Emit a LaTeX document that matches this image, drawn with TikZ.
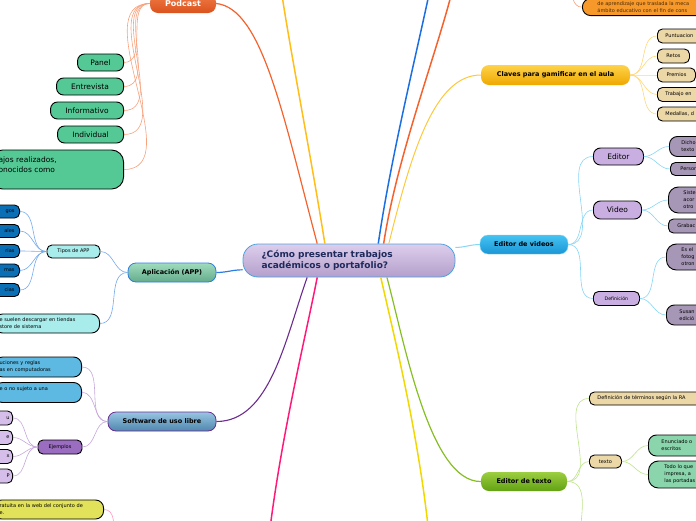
\documentclass[tikz,border=0pt]{standalone}
\usepackage{fontspec}
\setmainfont{DejaVu Sans}
\usetikzlibrary{positioning}
\definecolor{Navy}{HTML}{1F2A5C}
\definecolor{Sky}{HTML}{4AA3DF}
\definecolor{LilacTop}{HTML}{DDCEEC}
\definecolor{LilacBot}{HTML}{B49FCB}
\definecolor{PodTop}{HTML}{F27A45}
\definecolor{PodBot}{HTML}{D9531E}
\definecolor{Salmon}{HTML}{F7A27E}
\definecolor{Mint}{HTML}{54C995}
\definecolor{Amber}{HTML}{FFBE1A}
\definecolor{GoldTop}{HTML}{FFD24A}
\definecolor{GoldBot}{HTML}{EEA800}
\definecolor{Gold}{HTML}{FFC83C}
\definecolor{GoldTwig}{HTML}{FFD97A}
\definecolor{Sand}{HTML}{ECD7A6}
\definecolor{Flame}{HTML}{F4622E}
\definecolor{Tangerine}{HTML}{F7992A}
\definecolor{Cocoa}{HTML}{4A2A08}
\definecolor{Royal}{HTML}{1C6FE0}
\definecolor{CyanTop}{HTML}{45C3F2}
\definecolor{CyanBot}{HTML}{1A96D6}
\definecolor{CyanTwig}{HTML}{86D6F5}
\definecolor{Lilac}{HTML}{C9AEE1}
\definecolor{Mauve}{HTML}{A797B7}
\definecolor{LimeTop}{HTML}{9CCE40}
\definecolor{LimeBot}{HTML}{62A213}
\definecolor{Lime}{HTML}{86BE24}
\definecolor{LimeTwig}{HTML}{BDE38A}
\definecolor{Seafoam}{HTML}{8AD5AC}
\definecolor{Lemon}{HTML}{F0D800}
\definecolor{Rose}{HTML}{FF1A78}
\definecolor{Plum}{HTML}{6B2C8E}
\definecolor{PlumTwig}{HTML}{C6A6DC}
\definecolor{SteelTop}{HTML}{98C5E2}
\definecolor{SteelBot}{HTML}{4F87AE}
\definecolor{Violet}{HTML}{9B6DC1}
\definecolor{Thistle}{HTML}{D5BEE9}
\definecolor{Azure}{HTML}{5DB9E2}
\definecolor{Ocean}{HTML}{0A6FB5}
\definecolor{Aqua}{HTML}{A9ECEC}
\definecolor{JadeTop}{HTML}{A0DCBE}
\definecolor{JadeBot}{HTML}{63AC8B}
\definecolor{Cobalt}{HTML}{2C7CE2}
\definecolor{CobaltTwig}{HTML}{74AAF0}
\definecolor{Canary}{HTML}{E2E25A}

\begin{document}
\begin{tikzpicture}[x=1pt, y=-1pt,
    topic/.style={rounded corners=8pt, minimum height=19pt, inner sep=0pt, font=\bfseries\fontsize{6.5}{7}\selectfont},
    pill/.style={draw=black, line width=0.9pt, rounded corners=7pt, minimum height=17pt, inner sep=0pt, font=\fontsize{7.5}{9}\selectfont},
    chip/.style={draw=black, line width=0.9pt, rounded corners=5pt, minimum height=13pt, inner xsep=5pt, inner ysep=0pt, font=\fontsize{5}{6}\selectfont},
    note/.style={draw=black, line width=0.9pt, rounded corners=8pt, inner ysep=3pt, align=left, font=\fontsize{5}{7}\selectfont},
    twig/.style={line width=0.6pt},
    trunk/.style={line width=1.5pt}]
  \useasboundingbox (0,0) rectangle (696,520);

  % central topic
  \node[draw=Sky, line width=0.8pt, rounded corners=15pt, top color=LilacTop, bottom color=LilacBot,
        minimum width=212pt, minimum height=33pt, text width=175pt, align=left, text=Navy,
        font=\bfseries\fontsize{9}{11}\selectfont] (centre) at (349,260.5)
        {¿Cómo presentar trabajos\\académicos o portafolio?};

  % main topics
  \node[topic, top color=PodTop, bottom color=PodBot, minimum width=66pt, text=white,
        font=\bfseries\fontsize{8}{9}\selectfont] (podcast) at (183,3.5) {Podcast};
  \node[topic, top color=GoldTop, bottom color=GoldBot, minimum width=149pt, minimum height=20pt] (claves) at (555.5,75) {Claves para gamificar en el aula};
  \node[topic, draw=CyanTwig, top color=CyanTop, bottom color=CyanBot, minimum width=88pt] (videos) at (524,244.5) {Editor de videos};
  \node[topic, top color=LimeTop, bottom color=LimeBot, minimum width=86pt] (texteditor) at (524,481.5) {Editor de texto};
  \node[topic, draw=Cobalt, line width=0.8pt, top color=JadeTop, bottom color=JadeBot, minimum width=88pt] (app) at (172,272.5) {Aplicación (APP)};
  \node[topic, draw=Plum, line width=0.8pt, top color=SteelTop, bottom color=SteelBot, minimum width=108pt] (software) at (162,421.5) {Software de uso libre};

  % podcast
  \node[pill, fill=Mint, anchor=east, minimum width=46pt] (panel) at (124,62.5) {Panel};
  \node[pill, fill=Mint, anchor=east, minimum width=67pt] (entrevista) at (124,86.5) {Entrevista};
  \node[pill, fill=Mint, anchor=east, minimum width=73pt] (informativo) at (124,110.5) {Informativo};
  \node[pill, fill=Mint, anchor=east, minimum width=66pt] (individual) at (124,134.5) {Individual};
  \node[note, fill=Mint, anchor=east, text width=117pt, inner xsep=8pt, minimum height=39pt,
        rounded corners=12pt, font=\fontsize{7.5}{10}\selectfont] (grabaciones) at (124,169.5)
        {ajos realizados,\\onocidos como\\\mbox{}};

  % gamificacion
  \node[note, fill=Tangerine, anchor=south west, text width=100pt, inner xsep=15pt, text=Cocoa] (gami) at (582,16)
        {de aprendizaje que traslada la meca\\ámbito educativo con el fin de cons};
  \node[chip, fill=Sand, anchor=west, text width=40pt, align=left, inner xsep=8pt, minimum height=14pt] (puntos) at (657,36) {Puntuacion};
  \node[chip, fill=Sand, anchor=west, minimum width=32pt, minimum height=14pt] (retos) at (657,56) {Retos};
  \node[chip, fill=Sand, anchor=west, minimum width=38pt, minimum height=14pt] (premios) at (657,75) {Premios};
  \node[chip, fill=Sand, anchor=west, text width=40pt, align=left, inner xsep=8pt, minimum height=14pt] (equipo) at (657,94.5) {Trabajo en};
  \node[chip, fill=Sand, anchor=west, text width=40pt, align=left, inner xsep=8pt, minimum height=14pt] (medallas) at (657,114) {Medallas, d};

  % editor de videos
  \node[pill, fill=Lilac, anchor=west, minimum width=50pt] (editor) at (593,156.5) {Editor};
  \node[pill, fill=Lilac, anchor=west, minimum width=48pt, minimum height=18pt] (video) at (593,210) {Video};
  \node[chip, fill=Lilac, anchor=west, minimum width=46pt, minimum height=14pt, font=\fontsize{4.7}{6}\selectfont] (definicion) at (593,298.5) {Definición};
  \node[note, fill=Mauve, anchor=west, text width=30pt, inner xsep=12pt, minimum height=20pt, inner ysep=1pt] (dicho) at (669,146.5) {Dicho\\texto};
  \node[note, fill=Mauve, anchor=west, text width=30pt, inner xsep=10pt, minimum height=13pt, inner ysep=0pt, rounded corners=5pt] (persona) at (670,169) {Person};
  \node[note, fill=Mauve, anchor=west, text width=30pt, inner xsep=15pt, minimum height=26pt, inner ysep=1pt, rounded corners=10pt] (sistema) at (668,200) {Siste\\acor\\otro};
  \node[note, fill=Mauve, anchor=west, text width=30pt, inner xsep=9pt, minimum height=14pt, inner ysep=0pt, rounded corners=5pt] (grabacion) at (668,226) {Grabac};
  \node[note, fill=Mauve, anchor=west, text width=30pt, inner xsep=15pt, minimum height=26pt, inner ysep=1pt, rounded corners=10pt] (esel) at (666,257) {Es el\\fotog\\otron};
  \node[note, fill=Mauve, anchor=west, text width=30pt, inner xsep=13pt, minimum height=20pt, inner ysep=1pt] (susana) at (666,315) {Susan\\edició};

  % editor de texto
  \node[chip, fill=Sand, anchor=west, text width=110pt, align=left, inner xsep=8pt] (rae) at (589,398.5) {Definición de términos según la RA};
  \node[chip, fill=Sand, anchor=west, minimum width=32pt] (texto) at (589,461.5) {texto};
  \node[note, fill=Seafoam, anchor=west, text width=40pt, inner xsep=13pt, minimum height=21pt, inner ysep=1pt] (enunciado) at (648,445.5) {Enunciado o\\escritos};
  \node[note, fill=Seafoam, anchor=west, text width=40pt, inner xsep=16pt, minimum height=27pt, inner ysep=1pt, rounded corners=10pt] (todo) at (648,474.5) {Todo lo que\\impresa, a\\las portadas};

  % aplicacion
  \node[chip, fill=Aqua, minimum width=53pt] (tipos) at (73.5,251.5) {Tipos de APP};
  \node[note, fill=Aqua, anchor=east, text width=95pt, inner xsep=5pt, minimum height=19pt, inner ysep=1pt] (tiendas) at (100,323.5)
        {e suelen descargar en tiendas\\store de sistema};
  \foreach \nm/\y/\txt in {juegos/211.5/gos, sociales/231/ales, utiles/251/rias, programas/270.5/mas, noticias/290/cias}
    \node[chip, fill=Ocean, text=black, anchor=east, text width=30pt, align=right] (\nm) at (20,\y) {\txt};

  % software
  \node[note, fill=Azure, anchor=east, text width=77pt, inner xsep=5pt, minimum height=20pt, inner ysep=1pt] (reglas) at (82,367)
        {uciones y reglas\\as en computadoras};
  \node[note, fill=Azure, anchor=east, text width=77pt, inner xsep=5pt, minimum height=20pt, inner ysep=1pt] (sujeto) at (82,392.5)
        {e o no sujeto a una\\\mbox{}};
  \node[chip, fill=Violet, minimum width=44pt, minimum height=14pt] (ejemplos) at (60,447) {Ejemplos};
  \foreach \nm/\y/\txt in {ejuno/418/u, ejdos/437.5/e, ejtres/456.5/x, ejcuatro/476/P}
    \node[chip, fill=Thistle, anchor=east, text width=20pt, align=right, inner xsep=3pt, minimum height=14pt] (\nm) at (13,\y) {\txt};
  \node[note, fill=Canary, anchor=east, text width=98pt, inner xsep=6pt, minimum height=19pt, inner ysep=1pt] (web) at (104,509.5)
        {ratuita en la web del conjunto de\\e.};

  % ends of branches outside the frame
  \coordinate (amberend) at (279,-25);
  \coordinate (royalend) at (433,-25);
  \coordinate (flameend) at (456,-25);
  \coordinate (roseend) at (268,545);
  \coordinate (lemonend) at (430,545);
  \coordinate (gamistub) at (568,-15);
  \coordinate (webstub) at (114,535);
  \coordinate (textstub) at (580,540);

  % branches from the centre
  \draw[trunk, Flame, line width=1.2pt] (centre.152.7) .. controls (283,115) and (262,8) .. (podcast.east);
  \draw[trunk, Amber] (centre.145.5) .. controls (310,150) and (288,40) .. (amberend);
  \draw[trunk, Royal] (centre.30.5) .. controls (392,150) and (420,40) .. (royalend);
  \draw[trunk, Flame] (centre.26.6) .. controls (398,150) and (442,40) .. (flameend);
  \draw[trunk, Gold, line width=1pt] (centre.23.5) .. controls (412,150) and (435,75) .. (claves.west);
  \draw[trunk, CyanTwig, line width=1pt] (centre.7.3) to[out=0,in=180] (videos.west);
  \draw[trunk, Cobalt, line width=1.2pt] (centre.185.7) to[out=180,in=0] (app.east);
  \draw[trunk, Plum, line width=1.1pt] (centre.202.9) .. controls (285,340) and (270,421.5) .. (software.east);
  \draw[trunk, Rose] (centre.208) .. controls (305,340) and (280,440) .. (roseend);
  \draw[trunk, Lemon] (centre.332) .. controls (395,340) and (420,440) .. (lemonend);
  \draw[trunk, Lime, line width=1.2pt] (centre.336) .. controls (405,345) and (430,482) .. (texteditor.west);

  % twigs
  \foreach \nm in {panel,entrevista,informativo,individual,grabaciones}
    \draw[twig, Salmon] (podcast.west) to[out=180,in=0] (\nm.east);
  \foreach \nm in {puntos,retos,premios,equipo,medallas}
    \draw[twig, GoldTwig] (claves.east) to[out=0,in=180] (\nm.west);
  \foreach \nm in {editor,video,definicion}
    \draw[twig, CyanTwig] (videos.east) to[out=0,in=180] (\nm.west);
  \draw[twig, CyanTwig] (editor.east) to[out=0,in=180] (dicho.west);
  \draw[twig, CyanTwig] (editor.east) to[out=0,in=180] (persona.west);
  \draw[twig, CyanTwig] (video.east) to[out=0,in=180] (sistema.west);
  \draw[twig, CyanTwig] (video.east) to[out=0,in=180] (grabacion.west);
  \draw[twig, CyanTwig] (definicion.east) to[out=0,in=180] (esel.west);
  \draw[twig, CyanTwig] (definicion.east) to[out=0,in=180] (susana.west);
  \foreach \nm in {rae,texto}
    \draw[twig, LimeTwig] (texteditor.east) to[out=0,in=180] (\nm.west);
  \draw[twig, LimeTwig] (texteditor.east) to[out=0,in=90] (textstub);
  \draw[twig, LimeTwig] (texto.east) to[out=0,in=180] (enunciado.west);
  \draw[twig, LimeTwig] (texto.east) to[out=0,in=180] (todo.west);
  \draw[twig, CobaltTwig] (app.west) to[out=180,in=0] (tipos.east);
  \draw[twig, CobaltTwig] (app.west) to[out=180,in=0] (tiendas.east);
  \foreach \nm in {juegos,sociales,utiles,programas,noticias}
    \draw[twig, CobaltTwig] (tipos.west) to[out=180,in=0] (\nm.east);
  \foreach \nm in {reglas,sujeto,ejemplos}
    \draw[twig, PlumTwig] (software.west) to[out=180,in=0] (\nm.east);
  \foreach \nm in {ejuno,ejdos,ejtres,ejcuatro}
    \draw[twig, PlumTwig] (ejemplos.west) to[out=180,in=0] (\nm.east);
  \draw[twig, Salmon] (gamistub) to[out=-60,in=180] (gami.west);
  \draw[twig, Rose!45] (web.east) to[out=0,in=90] (webstub);
\end{tikzpicture}
\end{document}
